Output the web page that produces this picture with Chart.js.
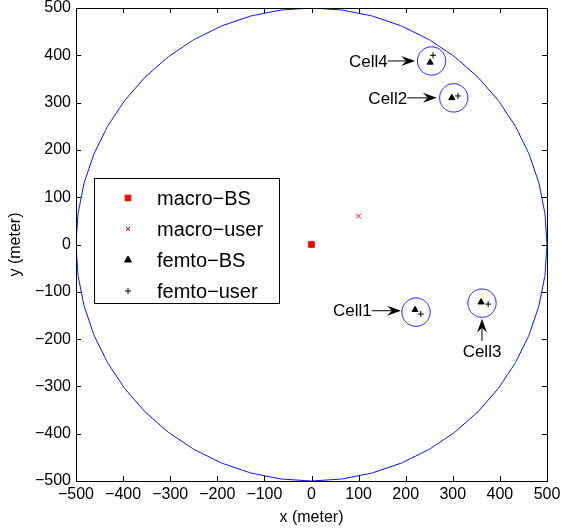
<!DOCTYPE html>
<html lang="en">
<head>
<meta charset="UTF-8" />
<title>Macro / femto layout</title>
<script src="https://cdn.jsdelivr.net/npm/chart.js"></script>
<style>body{margin:0;background:#fff}</style>
</head>
<body>
<canvas id="grafica" width="565" height="529"></canvas>
<script>
// valores (metros)
const axisTicks = [-500, -400, -300, -200, -100, 0, 100, 200, 300, 400, 500];
const macroBS = [{ x: 0, y: 0 }];
const macroUser = [{ x: 100, y: 60 }];
const femtoBS = [{ x: 252, y: 385 }, { x: 298, y: 310 }, { x: 220, y: -138 }, { x: 360, y: -122 }];
const femtoUser = [{ x: 258, y: 400 }, { x: 311, y: 314 }, { x: 232, y: -147 }, { x: 375, y: -126 }];
const cellNames = ["Cell4", "Cell2", "Cell1", "Cell3"];
const cellCenters = [{ x: 255, y: 388 }, { x: 302, y: 310 }, { x: 222, y: -143 }, { x: 362, y: -124 }];
const cellRadius = 30;
const macroRadius = 500;
// flechas de las etiquetas: cola -> punta
const arrowTails = [{ x: 162, y: 388 }, { x: 203, y: 310 }, { x: 128, y: -140 }, { x: 362, y: -204 }];
const arrowTips = [{ x: 220, y: 388 }, { x: 266, y: 310 }, { x: 190, y: -140 }, { x: 362, y: -157 }];

const FONT = "'Liberation Sans', Arial, Helvetica, sans-serif";
const minus = (s) => String(s).replace("-", "\u2212");

function circlePoints(c, r, n) {
  const pts = [];
  for (let i = 0; i <= n; i++) {
    const a = (2 * Math.PI * i) / n;
    pts.push({ x: c.x + r * Math.cos(a), y: c.y + r * Math.sin(a) });
  }
  return pts;
}

// tension minúscula para evitar el "fast path" de Chart.js (deja restos en los círculos)
const lineStyle = { type: "line", showLine: true, borderColor: "#0000ff", borderWidth: 1, pointRadius: 0, fill: false, tension: 0.000001 };

const datasets = [
  Object.assign({ label: "macro cell", data: circlePoints({ x: 0, y: 0 }, macroRadius, 48) }, lineStyle),
];
cellCenters.forEach((c, i) => {
  datasets.push(Object.assign({ label: cellNames[i], data: circlePoints(c, cellRadius, 40) }, lineStyle));
});
datasets.push(
  { label: "macro\u2212BS", data: macroBS, pointStyle: "rect", pointRadius: 4, backgroundColor: "#ff0000", borderColor: "#ff0000", borderWidth: 1 },
  { label: "macro\u2212user", data: macroUser, pointStyle: "crossRot", pointRadius: 3.5, borderColor: "#ff0000", borderWidth: 1 },
  { label: "femto\u2212BS", data: femtoBS, pointStyle: "triangle", pointRadius: 3.5, backgroundColor: "#000", borderColor: "#000", borderWidth: 1 },
  { label: "femto\u2212user", data: femtoUser, pointStyle: "cross", pointRadius: 3, borderColor: "#000", borderWidth: 1 }
);

// caja estilo MATLAB con marcas hacia dentro, etiquetas con flecha y leyenda
const matlabLook = {
  id: "matlabLook",
  afterDatasetsDraw(chart) {
    const { ctx, chartArea: a, scales } = chart;
    const xs = scales.x, ys = scales.y;
    ctx.save();
    ctx.strokeStyle = "#000";
    ctx.lineWidth = 1;
    ctx.beginPath();
    axisTicks.forEach((v) => {
      const px = Math.round(xs.getPixelForValue(v)) + 0.5;
      ctx.moveTo(px, a.bottom); ctx.lineTo(px, a.bottom - 5);
      ctx.moveTo(px, a.top); ctx.lineTo(px, a.top + 5);
      const py = Math.round(ys.getPixelForValue(v)) + 0.5;
      ctx.moveTo(a.left, py); ctx.lineTo(a.left + 5, py);
      ctx.moveTo(a.right, py); ctx.lineTo(a.right - 5, py);
    });
    ctx.stroke();
    ctx.strokeRect(Math.round(a.left) + 0.5, Math.round(a.top) + 0.5, Math.round(a.right - a.left), Math.round(a.bottom - a.top));

    // flechas
    ctx.fillStyle = "#000";
    ctx.font = "17px " + FONT;
    cellNames.forEach((name, i) => {
      const tx = xs.getPixelForValue(arrowTails[i].x), ty = ys.getPixelForValue(arrowTails[i].y);
      const hx = xs.getPixelForValue(arrowTips[i].x), hy = ys.getPixelForValue(arrowTips[i].y);
      const ang = Math.atan2(hy - ty, hx - tx);
      const L = 12, W = 5;
      const bx = hx - L * Math.cos(ang), by = hy - L * Math.sin(ang);
      ctx.beginPath();
      ctx.moveTo(tx, ty); ctx.lineTo(bx + 3 * Math.cos(ang), by + 3 * Math.sin(ang));
      ctx.stroke();
      ctx.beginPath();
      ctx.moveTo(hx, hy);
      ctx.lineTo(bx - W * Math.sin(ang) - 2 * Math.cos(ang), by + W * Math.cos(ang) - 2 * Math.sin(ang));
      ctx.lineTo(bx + 3 * Math.cos(ang), by + 3 * Math.sin(ang));
      ctx.lineTo(bx + W * Math.sin(ang) - 2 * Math.cos(ang), by - W * Math.cos(ang) - 2 * Math.sin(ang));
      ctx.closePath();
      ctx.fill();
      if (Math.abs(hx - tx) > Math.abs(hy - ty)) {
        ctx.textAlign = "right"; ctx.textBaseline = "middle";
        ctx.fillText(name, tx, ty + 1);
      } else {
        ctx.textAlign = "center"; ctx.textBaseline = "top";
        ctx.fillText(name, tx, ty + 3);
      }
    });

    // leyenda
    const lx = 94, ly = 178, lw = 185, lh = 125;
    ctx.fillStyle = "#fff";
    ctx.fillRect(lx, ly, lw, lh);
    ctx.strokeRect(lx + 0.5, ly + 0.5, lw, lh);
    const items = chart.data.datasets.slice(1 + cellNames.length);
    const sizes = [4, 3, 4, 3];
    items.forEach((ds, i) => {
      const y = ly + 20 + i * 31;
      ctx.fillStyle = ds.backgroundColor || ds.borderColor;
      ctx.strokeStyle = ds.borderColor;
      Chart.helpers.drawPoint(ctx, { pointStyle: ds.pointStyle, radius: sizes[i], borderWidth: 1, rotation: 0 }, lx + 34, y);
      ctx.fillStyle = "#000";
      ctx.font = "20px " + FONT;
      ctx.textAlign = "left"; ctx.textBaseline = "middle";
      ctx.fillText(ds.label, lx + 63, y + 1);
    });
    ctx.restore();
  }
};

new Chart(document.getElementById("grafica").getContext("2d"), {
  type: "scatter",
  data: { datasets },
  plugins: [matlabLook],
  options: {
    responsive: false,
    animation: false,
    layout: { padding: { top: 8, right: 18, left: 0, bottom: 0 } },
    plugins: { legend: { display: false }, tooltip: { enabled: false } },
    scales: {
      x: {
        type: "linear", min: -500, max: 500,
        afterBuildTicks: (s) => { s.ticks = axisTicks.map((v) => ({ value: v })); },
        afterFit: (s) => { s.height = 48; s.paddingLeft = 0; s.paddingRight = 0; },
        grid: { display: false, drawTicks: false },
        border: { display: false },
        ticks: { color: "#000", font: { family: FONT, size: 16 }, padding: 4, maxRotation: 0, callback: (v) => minus(v) },
        title: { display: true, text: "x (meter)", color: "#000", font: { family: FONT, size: 16 }, padding: { top: 0, bottom: 2 } }
      },
      y: {
        type: "linear", min: -500, max: 500,
        afterBuildTicks: (s) => { s.ticks = axisTicks.map((v) => ({ value: v })); },
        afterFit: (s) => { s.width = 76; s.paddingTop = 0; s.paddingBottom = 0; },
        grid: { display: false, drawTicks: false },
        border: { display: false },
        ticks: { color: "#000", font: { family: FONT, size: 16 }, padding: 5, callback: (v) => minus(v) },
        title: { display: true, text: "y (meter)", color: "#000", font: { family: FONT, size: 16 }, padding: { top: 6, bottom: 0 } }
      }
    }
  }
});
</script>
</body>
</html>
